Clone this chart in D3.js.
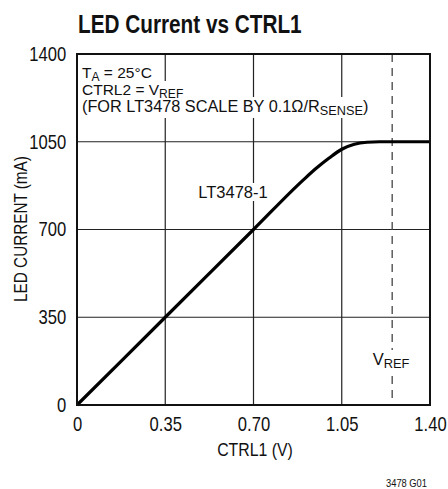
<!DOCTYPE html>
<html>
<head>
  <meta charset="UTF-8">
  <style>
    body { margin: 0; background: #fff; }
    svg text { font-family: "Liberation Sans", Arial, sans-serif; fill: #111; }
  </style>
</head>
<body>
  <svg></svg>
<script src="https://d3js.org/d3.v7.min.js"></script>
<script>
let width = 448,
    height = 489;

// data
let ctrl1 = [0, 0.35, 0.70, 0.90, 0.95, 1.00, 1.05, 1.10, 1.15, 1.20, 1.25, 1.40];
let ledCurrent = [0, 350, 700, 900, 945, 985, 1020, 1040, 1048, 1050, 1050, 1050];
let xTicks = [0, 0.35, 0.70, 1.05, 1.40];
let xTickLabels = ["0", "0.35", "0.70", "1.05", "1.40"];
let yTicks = [0, 350, 700, 1050, 1400];
let vref = 1.25;

let narrow = 0.83; // the original type is a condensed face

let svg = d3.select("svg")
    .attr("width", width)
    .attr("height", height);

let x = d3.scaleLinear().domain([0, 1.4]).range([77, 430]);
let y = d3.scaleLinear().domain([0, 1400]).range([405, 54]);

// title
svg.append("text")
    .attr("transform", "translate(78,33) scale(" + narrow + ",1)")
    .style("font-size", "25px")
    .style("font-weight", "bold")
    .text("LED Current vs CTRL1");

// grid
let grid = svg.append("g").attr("id", "grid");
grid.selectAll("line.v")
  .data(xTicks.slice(1, -1))
  .enter()
  .append("line")
    .attr("x1", d => x(d)).attr("x2", d => x(d))
    .attr("y1", y(1400)).attr("y2", y(0))
    .attr("stroke", "#222").attr("stroke-width", 1.2);
grid.selectAll("line.h")
  .data(yTicks.slice(1, -1))
  .enter()
  .append("line")
    .attr("x1", x(0)).attr("x2", x(1.4))
    .attr("y1", d => y(d)).attr("y2", d => y(d))
    .attr("stroke", "#222").attr("stroke-width", 1.2);

// vref dashed line
svg.append("line")
    .attr("x1", x(vref)).attr("x2", x(vref))
    .attr("y1", y(1400)).attr("y2", y(0))
    .attr("stroke", "#444")
    .attr("stroke-width", 1.3)
    .attr("stroke-dasharray", "8,6");

// labels with white boxes behind them (boxes first so they never hide text)
let boxes = svg.append("g").attr("id", "boxes");
let labels = svg.append("g").attr("id", "labels");

function boxedText(px, py, size, parts, anchor) {
  let t = labels.append("text")
      .attr("x", px).attr("y", py)
      .attr("text-anchor", anchor || "start")
      .style("font-size", size + "px");
  parts.forEach(p => {
    let s = t.append("tspan").text(p.t);
    if (p.sub) s.attr("dy", 3).style("font-size", (size * 0.78) + "px");
    else if (p.back) s.attr("dy", -3);
  });
  let b = t.node().getBBox();
  boxes.append("rect")
      .attr("x", b.x - 2).attr("y", b.y)
      .attr("width", b.width + 4).attr("height", b.height)
      .attr("fill", "#fff");
}

boxedText(82, 78, 15.5, [{t: "T"}, {t: "A", sub: true}, {t: " = 25°C", back: true}]);
boxedText(82, 95, 15.5, [{t: "CTRL2 = V"}, {t: "REF", sub: true}]);
boxedText(82, 112, 16.3, [{t: "(FOR LT3478 SCALE BY 0.1Ω/R"}, {t: "SENSE", sub: true}, {t: ")", back: true}]);
boxedText(233, 198, 16.5, [{t: "LT3478-1"}], "middle");
boxedText(391, 365, 16.5, [{t: "V"}, {t: "REF", sub: true}], "middle");

// curve
let points = ctrl1.map((d, i) => [d, ledCurrent[i]]);
svg.append("path")
    .datum(points)
    .attr("fill", "none")
    .attr("stroke", "#000")
    .attr("stroke-width", 3.2)
    .attr("stroke-linejoin", "round")
    .attr("d", d3.line()
      .x(d => x(d[0]))
      .y(d => y(d[1]))
      .curve(d3.curveMonotoneX));

// frame
svg.append("rect")
    .attr("x", x(0)).attr("y", y(1400))
    .attr("width", x(1.4) - x(0)).attr("height", y(0) - y(1400))
    .attr("fill", "none")
    .attr("stroke", "#111")
    .attr("stroke-width", 2);

// axes
let xAxis = svg.append("g")
    .attr("transform", "translate(0," + y(0) + ")")
    .call(d3.axisBottom(x).tickValues(xTicks).tickSize(0).tickPadding(12)
      .tickFormat((d, i) => xTickLabels[i]));
xAxis.select(".domain").remove();
xAxis.selectAll("text")
    .style("font-size", "20px")
    .attr("fill", "#111")
    .attr("transform", "scale(" + narrow + ",1)");

let yAxis = svg.append("g")
    .attr("transform", "translate(" + x(0) + ",0)")
    .call(d3.axisLeft(y).tickValues(yTicks).tickSize(0).tickPadding(13)
      .tickFormat(d3.format("d")));
yAxis.select(".domain").remove();
yAxis.selectAll("text")
    .style("font-size", "20px")
    .attr("fill", "#111")
    .attr("transform", "scale(" + narrow + ",1)");

svg.append("text")
    .attr("transform", "translate(255,456) scale(0.88,1)")
    .attr("text-anchor", "middle")
    .style("font-size", "18px")
    .text("CTRL1 (V)");

svg.append("text")
    .attr("transform", "translate(27,229) rotate(-90) scale(0.85,1)")
    .attr("text-anchor", "middle")
    .style("font-size", "18px")
    .text("LED CURRENT (mA)");

svg.append("text")
    .attr("transform", "translate(427,487) scale(0.85,1)")
    .attr("text-anchor", "end")
    .style("font-size", "11px")
    .text("3478 G01");
</script>
</body>
</html>
